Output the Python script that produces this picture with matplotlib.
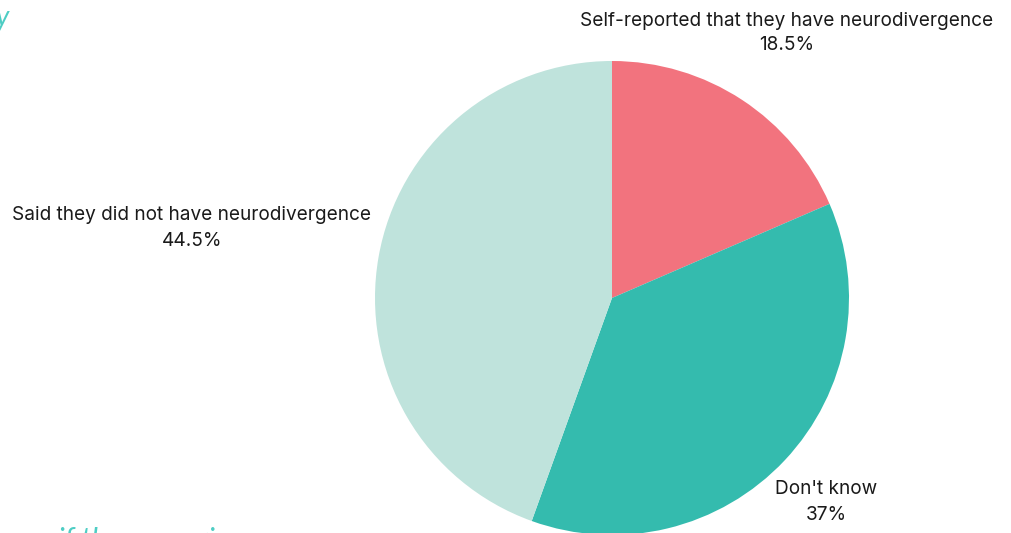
import matplotlib
matplotlib.use("Agg")
import matplotlib.pyplot as plt

categories = ["Self-reported that they have neurodivergence", "Don't know", "Said they did not have neurodivergence"]
values = [18.5, 37, 44.5]
value_labels = ["18.5%", "37%", "44.5%"]
colors = ["#F2737E", "#34BBAE", "#BFE3DC"]

W, H = 1011, 533
fig = plt.figure(figsize=(W / 100, H / 100), dpi=100)
ax = fig.add_axes([0, 0, 1, 1])

cx, cy, r = 612, H - 298, 237
ax.pie(values, colors=colors, startangle=90, counterclock=False,
       center=(cx, cy), radius=r, frame=True,
       wedgeprops=dict(linewidth=0))
ax.set_xlim(0, W)
ax.set_ylim(0, H)
ax.set_aspect("equal")
ax.axis("off")

label_pos = [(787, H - 33), (826, H - 502), (192, H - 228)]
for cat, vl, (x, y) in zip(categories, value_labels, label_pos):
    ax.text(x, y, f"{cat}\n{vl}", ha="center", va="center", fontsize=13.7,
            family="Inter", color="#1a1a1a", linespacing=1.5)

# cropped fragments of surrounding slide text
ax.text(-4, H - 18, "y", ha="left", va="center", fontsize=20, style="italic",
        family="Lato", color="#4ECDC4")
ax.text(-14, H - 540, "know if they experience", ha="left", va="center", fontsize=21,
        style="italic", family="Lato", color="#4ECDC4", clip_on=False)

fig.savefig("out.png", dpi=100)
